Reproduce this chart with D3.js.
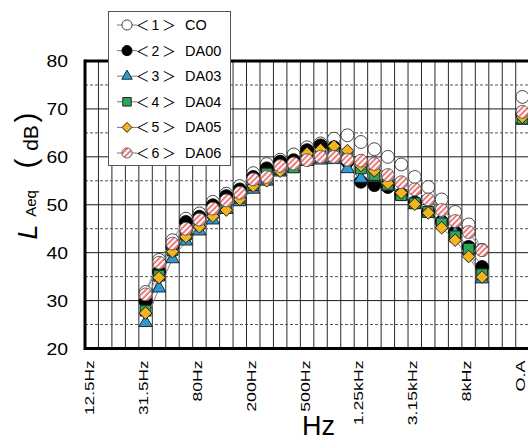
<!DOCTYPE html>
<html>
<head>
<meta charset="utf-8">
<script src="https://cdn.jsdelivr.net/npm/d3@7"></script>
<style>
  html, body { margin: 0; padding: 0; background: #fff; }
  svg { display: block; }
  text { font-family: "Liberation Sans", Arial, sans-serif; fill: #000; }
</style>
</head>
<body>
<svg id="chart" width="528" height="441"></svg>
<script>
// 1/3-octave band axis (12.5 Hz .. 16 kHz) plus the overall level column
const bands = ["12.5Hz","16Hz","20Hz","25Hz","31.5Hz","40Hz","50Hz","63Hz","80Hz","100Hz",
  "125Hz","160Hz","200Hz","250Hz","315Hz","400Hz","500Hz","630Hz","800Hz","1kHz",
  "1.25kHz","1.6kHz","2kHz","2.5kHz","3.15kHz","4kHz","5kHz","6.3kHz","8kHz","10kHz",
  "12.5kHz","16kHz","O.A"];
const tickBands = ["12.5Hz","31.5Hz","80Hz","200Hz","500Hz","1.25kHz","3.15kHz","8kHz","O.A"];
const measuredBands = ["31.5Hz","40Hz","50Hz","63Hz","80Hz","100Hz","125Hz","160Hz","200Hz",
  "250Hz","315Hz","400Hz","500Hz","630Hz","800Hz","1kHz","1.25kHz","1.6kHz","2kHz",
  "2.5kHz","3.15kHz","4kHz","5kHz","6.3kHz","8kHz","10kHz"];
const overallBand = "O.A";

const seriesNames = ["CO","DA00","DA03","DA04","DA05","DA06"];

// Band levels L_Aeq (dB), 31.5 Hz .. 10 kHz
const levelsCO   = [31.8,38.5,42.6,47.1,48.2,50.6,52.3,53.9,56.6,58.5,59.4,60.5,62.0,62.8,63.8,64.5,63.1,61.6,60.0,58.4,55.8,53.7,51.1,48.5,45.9,40.6];
const levelsDA00 = [29.8,36.0,41.3,46.4,47.5,49.9,51.8,53.2,55.8,57.6,59.0,59.3,61.4,62.4,62.0,59.0,54.8,54.1,53.7,52.2,50.5,48.6,46.5,44.3,41.2,37.0];
const levelsDA03 = [25.4,32.6,38.7,42.4,44.5,46.8,49.0,50.6,53.2,54.9,56.8,57.6,59.0,59.3,59.4,57.5,55.5,55.6,53.8,51.8,50.0,48.2,46.8,44.0,40.5,34.5];
const levelsDA04 = [27.9,35.2,40.5,43.8,46.1,48.3,49.9,51.5,54.1,56.5,57.4,57.8,59.8,60.0,60.7,60.0,57.6,56.2,54.2,52.0,50.3,48.5,46.1,43.4,40.8,35.5];
const levelsDA05 = [27.4,34.8,40.2,43.3,45.4,47.6,48.9,51.1,53.9,55.0,57.0,58.8,60.7,61.5,62.2,61.3,58.2,57.1,54.5,52.5,50.1,48.3,45.2,42.6,39.2,34.9];
const levelsDA06 = [31.3,37.9,41.9,45.0,46.9,49.2,50.9,52.5,55.3,55.8,58.1,58.6,59.3,60.0,60.0,59.4,59.2,58.5,56.2,54.7,53.2,51.1,48.9,46.6,44.3,40.5];
// Overall levels (O.A column), same series order
const overallLevels = [72.5,69.0,67.6,68.0,68.3,69.4];

const yTicks = [20,30,40,50,60,70,80];

const seriesLevels = [levelsCO, levelsDA00, levelsDA03, levelsDA04, levelsDA05, levelsDA06];

// ---- layout ----
const W = 528, H = 441;
const plotLeft = 85, plotTop = 61, plotBottom = 348.5, bandStep = 13.46;

const svg = d3.select("#chart");

const x = d3.scaleBand().domain(bands).range([plotLeft, plotLeft + bandStep * bands.length]).padding(0);
const y = d3.scaleLinear().domain([20, 80]).range([plotBottom, plotTop]);
const cx = b => x(b) + x.bandwidth() / 2;

// marker look per series
const markerStyle = [
  { type: d3.symbolCircle,   size: 130, fill: "#ffffff", stroke: "#333" },
  { type: d3.symbolCircle,   size: 130, fill: "#000000", stroke: "#000" },
  { type: d3.symbolTriangle, size: 78,  fill: "#2b9ad6", stroke: "#1a1a1a" },
  { type: d3.symbolSquare,   size: 118, fill: "#2ea559", stroke: "#1a1a1a" },
  { type: d3.symbolSquare,   size: 80,  fill: "#f4b320", stroke: "#1a1a1a", rotate: 45 },
  { type: d3.symbolCircle,   size: 130, fill: "url(#hatch)", stroke: "#555" }
];

// striped fill for the DA06 circles
const defs = svg.append("defs");
const pat = defs.append("pattern")
  .attr("id", "hatch")
  .attr("patternUnits", "userSpaceOnUse")
  .attr("width", 4).attr("height", 4)
  .attr("patternTransform", "rotate(45)");
pat.append("rect").attr("width", 4).attr("height", 4).attr("fill", "#fff");
pat.append("rect").attr("width", 2).attr("height", 4).attr("fill", "#ef7a7a");

svg.append("rect").attr("width", W).attr("height", H).attr("fill", "#fff");

// ---- grid ----
const grid = svg.append("g");
const xEdges = bands.map(b => x(b) + x.bandwidth());
grid.selectAll("line.v").data(xEdges).join("line")
  .attr("class", "v")
  .attr("x1", d => d).attr("x2", d => d)
  .attr("y1", plotTop).attr("y2", plotBottom)
  .attr("stroke", "#2a2a2a").attr("stroke-width", 1);

const hVals = d3.range(25, 80, 5);
grid.selectAll("line.h").data(hVals).join("line")
  .attr("class", "h")
  .attr("x1", plotLeft).attr("x2", W)
  .attr("y1", d => y(d)).attr("y2", d => y(d))
  .attr("stroke", d => d % 10 === 0 ? "#1a1a1a" : "#555")
  .attr("stroke-width", 1)
  .attr("stroke-dasharray", d => d % 10 === 0 ? null : "3,2");

// frame (left, top, bottom)
const frame = svg.append("g").attr("stroke", "#000").attr("stroke-width", 3);
frame.append("line").attr("x1", plotLeft).attr("x2", plotLeft).attr("y1", plotTop - 1.5).attr("y2", plotBottom + 1.5);
frame.append("line").attr("x1", plotLeft).attr("x2", W).attr("y1", plotTop).attr("y2", plotTop);
frame.append("line").attr("x1", plotLeft).attr("x2", W).attr("y1", plotBottom).attr("y2", plotBottom);

// ---- series ----
const line = d3.line().x(d => cx(d.band)).y(d => y(d.v));
const seriesData = seriesLevels.map(arr => measuredBands.map((b, i) => ({ band: b, v: arr[i] })));

const linesG = svg.append("g");
seriesData.forEach(pts => {
  linesG.append("path").attr("d", line(pts))
    .attr("fill", "none").attr("stroke", "#8a8a8a").attr("stroke-width", 1);
});

function drawMarker(g, s, px, py, scale) {
  const sym = d3.symbol().type(s.type).size(s.size * (scale || 1));
  g.append("path")
    .attr("d", sym())
    .attr("transform", `translate(${px},${py})` + (s.rotate ? ` rotate(${s.rotate})` : ""))
    .attr("fill", s.fill)
    .attr("stroke", s.stroke)
    .attr("stroke-width", 0.9);
}

const marksG = svg.append("g");
seriesData.forEach((pts, si) => {
  const s = markerStyle[si];
  const g = marksG.append("g");
  pts.forEach(p => drawMarker(g, s, cx(p.band), y(p.v)));
  drawMarker(g, s, cx(overallBand), y(overallLevels[si]));
});

// ---- axes ----
const yAxis = d3.axisLeft(y).tickValues(yTicks).tickSize(0);
const yG = svg.append("g").attr("transform", `translate(${plotLeft},0)`).call(yAxis);
yG.select(".domain").remove();
yG.selectAll("text")
  .attr("x", -17).attr("dy", "0.35em")
  .attr("font-size", 17)
  .attr("textLength", 21.5).attr("lengthAdjust", "spacingAndGlyphs")
  .style("font-family", "'Liberation Sans', Arial, sans-serif")
  .attr("fill", "#111");

const charLen = s => Array.from(s).reduce((a, c) => a + (c === "." ? 3.25 : 10.25), 0);
const xAxis = d3.axisBottom(x).tickValues(tickBands).tickSize(0);
const xG = svg.append("g").attr("transform", `translate(0,${plotBottom})`).call(xAxis);
xG.select(".domain").remove();
xG.selectAll("text")
  .attr("x", 0).attr("y", 0).attr("dy", null)
  .attr("transform", "translate(2.5,12) rotate(-90)")
  .attr("text-anchor", "end")
  .attr("font-size", 12)
  .attr("textLength", d => d === "O.A" ? 31 : charLen(d))
  .attr("lengthAdjust", "spacingAndGlyphs")
  .style("font-family", "'Liberation Sans', Arial, sans-serif")
  .attr("fill", "#111");

// ---- axis titles ----
svg.append("text")
  .attr("x", 318.5).attr("y", 435)
  .attr("text-anchor", "middle")
  .attr("font-size", 27)
  .text("Hz");

const yTitle = svg.append("g");
yTitle.append("text")
  .attr("transform", "translate(37,232) rotate(-90)")
  .attr("text-anchor", "middle")
  .attr("font-size", 27).attr("font-style", "italic")
  .text("L");
yTitle.append("text")
  .attr("transform", "translate(35.5,203.5) rotate(-90)")
  .attr("text-anchor", "middle")
  .attr("font-size", 15)
  .text("Aeq");
yTitle.append("text")
  .attr("transform", "translate(36,163.5) rotate(-90)")
  .attr("text-anchor", "middle")
  .attr("font-size", 30)
  .text("(");
yTitle.append("text")
  .attr("transform", "translate(38,138) rotate(-90)")
  .attr("text-anchor", "middle")
  .attr("font-size", 21)
  .text("dB");
yTitle.append("text")
  .attr("transform", "translate(36,117.5) rotate(-90)")
  .attr("text-anchor", "middle")
  .attr("font-size", 30)
  .text(")");

// ---- legend ----
const legend = svg.append("g");
legend.append("rect")
  .attr("x", 108.5).attr("y", 11.5).attr("width", 122).attr("height", 154)
  .attr("fill", "#fff").attr("stroke", "#555").attr("stroke-width", 1);
seriesNames.forEach((name, i) => {
  const ry = 25 + i * 25.6;
  legend.append("line")
    .attr("x1", 117).attr("x2", 137).attr("y1", ry).attr("y2", ry)
    .attr("stroke", "#7a7a7a").attr("stroke-width", 1);
  drawMarker(legend, markerStyle[i], 127, ry, 0.62);
  const lab = legend.append("text")
    .attr("y", ry + 5)
    .attr("font-size", 14)
    .attr("fill", "#111")
    .style("font-family", "'Noto Sans CJK JP', sans-serif");
  lab.append("tspan").attr("x", 142.5).attr("text-anchor", "middle").text("＜");
  lab.append("tspan").attr("x", 155.5).attr("text-anchor", "middle")
    .style("font-family", "'Liberation Sans', Arial, sans-serif").text(String(i + 1));
  lab.append("tspan").attr("x", 169).attr("text-anchor", "middle").text("＞");
  legend.append("text")
    .attr("x", 185).attr("y", ry + 5)
    .attr("font-size", 14.5)
    .attr("fill", "#111")
    .text(name);
});
</script>
</body>
</html>
